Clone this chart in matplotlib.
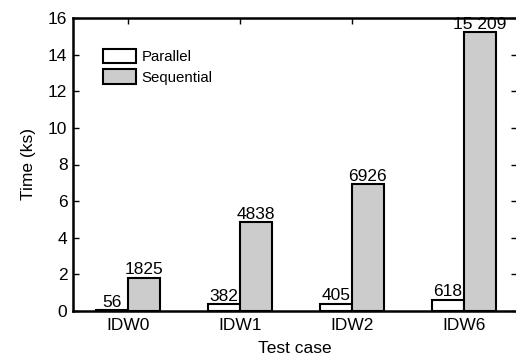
import matplotlib.pyplot as plt
import numpy as np

plt.rcParams['font.family'] = ['Liberation Sans', 'DejaVu Sans']

cases = ['IDW0', 'IDW1', 'IDW2', 'IDW6']
parallel = [0.056, 0.382, 0.405, 0.618]      # ks
sequential = [1.825, 4.838, 6.926, 15.209]   # ks
par_labels = ['56', '382', '405', '618']
seq_labels = ['1825', '4838', '6926', '15 209']

fig = plt.figure(figsize=(5.16, 3.58), dpi=100)
ax = fig.add_axes([73 / 516, 47 / 358, (517 - 73) / 516, 293 / 358])

x = np.arange(len(cases))
w = 0.285
b1 = ax.bar(x - w / 2, parallel, w, color='white', edgecolor='black', linewidth=1.5, label='Parallel')
b2 = ax.bar(x + w / 2, sequential, w, color='#cccccc', edgecolor='black', linewidth=1.5, label='Sequential')

for rect, t in zip(b1, par_labels):
    ax.text(rect.get_x() + rect.get_width() / 2, rect.get_height() + 0.02, t,
            ha='center', va='bottom', fontsize=12.5)
for rect, t in zip(b2, seq_labels):
    ax.text(rect.get_x() + rect.get_width() / 2, rect.get_height() + 0.02, t,
            ha='center', va='bottom', fontsize=12.5)

ax.set_xlim(-0.49, 3.475)
ax.set_ylim(0, 16)
ax.set_yticks(np.arange(0, 17, 2))
ax.set_xticks(x)
ax.set_xticklabels(cases)
ax.tick_params(axis='y', direction='in', length=4, width=1, right=True, labelsize=12.5, pad=4)
ax.tick_params(axis='x', direction='in', length=4, width=1, top=True, bottom=False, labelsize=12.5, pad=5)
for s in ax.spines.values():
    s.set_linewidth(1.8)

ax.set_xlabel('Test case', fontsize=12.5, labelpad=6)
ax.set_ylabel('Time (ks)', fontsize=12.5, labelpad=9)

ax.legend(loc='upper left', bbox_to_anchor=(0.068, 0.895), frameon=False, fontsize=10.8,
          handlelength=2.2, handleheight=1.1, handletextpad=0.35, labelspacing=0.35,
          borderaxespad=0, borderpad=0)

fig.savefig('out.png', dpi=100)
